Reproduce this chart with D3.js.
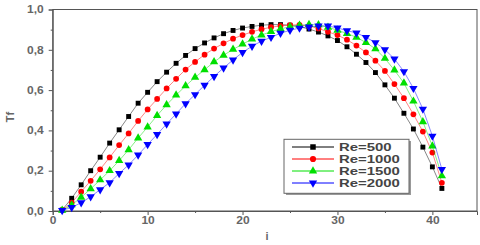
<!DOCTYPE html>
<html><head><meta charset="utf-8">
<script src="https://cdn.jsdelivr.net/npm/d3@7"></script>
<style>body{margin:0;background:#fff}svg{display:block}</style>
</head><body>
<svg id="c" width="480" height="245"></svg>
<script>
const idx = d3.range(1, 42);
const seriesNames = ["Re=500", "Re=1000", "Re=1500", "Re=2000"];
const re500 = [0.005,0.063,0.130,0.200,0.267,0.337,0.403,0.469,0.535,0.589,0.642,0.689,0.733,0.772,0.806,0.834,0.859,0.880,0.896,0.908,0.916,0.922,0.925,0.925,0.922,0.915,0.903,0.888,0.869,0.846,0.815,0.778,0.737,0.687,0.626,0.560,0.485,0.407,0.317,0.219,0.112];
const re1000 = [0.004,0.041,0.096,0.150,0.207,0.266,0.327,0.385,0.447,0.504,0.556,0.608,0.656,0.702,0.740,0.776,0.806,0.832,0.855,0.873,0.889,0.902,0.912,0.919,0.923,0.924,0.918,0.906,0.889,0.873,0.850,0.821,0.787,0.746,0.695,0.630,0.560,0.480,0.394,0.290,0.140];
const re1500 = [0.003,0.030,0.068,0.110,0.154,0.200,0.250,0.304,0.362,0.417,0.474,0.527,0.575,0.621,0.663,0.701,0.740,0.773,0.802,0.828,0.853,0.873,0.890,0.904,0.914,0.921,0.925,0.924,0.912,0.897,0.881,0.862,0.836,0.805,0.757,0.699,0.635,0.545,0.443,0.322,0.174];
const re2000 = [0.003,0.018,0.041,0.071,0.106,0.141,0.186,0.229,0.278,0.330,0.380,0.432,0.482,0.533,0.578,0.624,0.668,0.710,0.750,0.787,0.818,0.843,0.862,0.882,0.897,0.908,0.914,0.918,0.918,0.909,0.895,0.884,0.862,0.836,0.801,0.755,0.692,0.609,0.506,0.372,0.207];
const xTicks = [0, 10, 20, 30, 40];
const yTicks = [0, 0.2, 0.4, 0.6, 0.8, 1.0];
const yTickLabels = ["0,0", "0,2", "0,4", "0,6", "0,8", "1,0"];
const colors = ["#000000", "#ff0000", "#00e000", "#0000ff"];
const symbols = [d3.symbolSquare, d3.symbolCircle, d3.symbolTriangle, d3.symbolTriangle];

const allSeries = [re500, re1000, re1500, re2000];
const svg = d3.select("#c");
const L = 52.7, R = 477, T = 9.5, B = 211;
const x = d3.scaleLinear().domain([0, 44.7]).range([L, R]);
const y = d3.scaleLinear().domain([0, 1]).range([B, T]);
const axisCol = "#555";
const txtCol = "#666";
const font = "Liberation Sans, Arial, sans-serif";
const SX = 1.2;

// frame
svg.append("rect").attr("x", L).attr("y", T).attr("width", R - L).attr("height", B - T)
  .attr("fill", "none").attr("stroke", axisCol).attr("stroke-width", 1);

// x axis
const gx = svg.append("g").attr("transform", `translate(0,${B})`)
  .call(d3.axisBottom(x).tickValues(xTicks).tickSize(4).tickFormat(d3.format("d")));
gx.select(".domain").attr("stroke", axisCol);
gx.selectAll(".tick line").attr("stroke", axisCol);
gx.selectAll("text").attr("fill", txtCol).attr("font-family", font).attr("font-size", 10)
  .attr("font-weight", "bold").attr("dy", "0.6em").attr("transform", `scale(${SX},1)`);
const gxm = svg.append("g").attr("transform", `translate(0,${B})`)
  .call(d3.axisBottom(x).tickValues([5, 15, 25, 35]).tickSize(2).tickFormat(""));
gxm.select(".domain").remove();
gxm.selectAll(".tick line").attr("stroke", axisCol);

// y axis
const gy = svg.append("g").attr("transform", `translate(${L},0)`)
  .call(d3.axisLeft(y).tickValues(yTicks).tickSize(4).tickFormat((d, i) => yTickLabels[i]));
gy.select(".domain").attr("stroke", axisCol);
gy.selectAll(".tick line").attr("stroke", axisCol);
gy.selectAll("text").attr("fill", txtCol).attr("font-family", font).attr("font-size", 10)
  .attr("font-weight", "bold").attr("x", -9 / SX).attr("transform", `scale(${SX},1)`);
const gym = svg.append("g").attr("transform", `translate(${L},0)`)
  .call(d3.axisLeft(y).tickValues([0.1, 0.3, 0.5, 0.7, 0.9]).tickSize(2).tickFormat(""));
gym.select(".domain").remove();
gym.selectAll(".tick line").attr("stroke", axisCol);

// axis titles
svg.append("text").attr("x", 267).attr("y", 240).attr("text-anchor", "middle")
  .attr("fill", txtCol).attr("font-family", font).attr("font-size", 11).attr("font-weight", "bold").text("i");
svg.append("text").attr("transform", `translate(14,117) rotate(-90)`).attr("text-anchor", "middle")
  .attr("fill", txtCol).attr("font-family", font).attr("font-size", 11).attr("font-weight", "bold").text("Tf");

// series
const line = d3.line().x((d, i) => x(idx[i])).y(d => y(d));
allSeries.forEach((vals, s) => {
  const g = svg.append("g");
  g.append("path").datum(vals).attr("d", line).attr("fill", "none")
    .attr("stroke", colors[s]).attr("stroke-width", 0.8).attr("stroke-opacity", 0.6);
  g.selectAll("path.m").data(vals).join("path").attr("class", "m")
    .attr("transform", (d, i) => `translate(${x(idx[i])},${y(d)})` + (s === 3 ? " rotate(180)" : ""))
    .attr("d", d3.symbol().type(symbols[s]).size(s === 1 ? 26 : (s === 0 ? 24 : 30)))
    .attr("fill", colors[s]);
});

// legend
const lg = svg.append("g");
lg.append("rect").attr("x", 286).attr("y", 141).attr("width", 125).attr("height", 54).attr("fill", "#999");
lg.append("rect").attr("x", 284).attr("y", 139.3).attr("width", 125).attr("height", 54)
  .attr("fill", "#fff").attr("stroke", "#666").attr("stroke-width", 1);
const rows = [147, 159, 171, 183];
seriesNames.forEach((name, s) => {
  const ry = rows[s];
  lg.append("line").attr("x1", 292).attr("x2", 334).attr("y1", ry).attr("y2", ry)
    .attr("stroke", colors[s]).attr("stroke-width", 1);
  lg.append("path").attr("transform", `translate(313,${ry})` + (s === 3 ? " rotate(180)" : ""))
    .attr("d", d3.symbol().type(symbols[s]).size(30)).attr("fill", colors[s]);
  lg.append("text").attr("transform", `translate(339,${ry}) scale(1.42,1)`).attr("dy", "0.36em")
    .attr("fill", "#444").attr("font-family", font).attr("font-size", 10.5).attr("font-weight", "bold").text(name);
});
</script>
</body></html>
